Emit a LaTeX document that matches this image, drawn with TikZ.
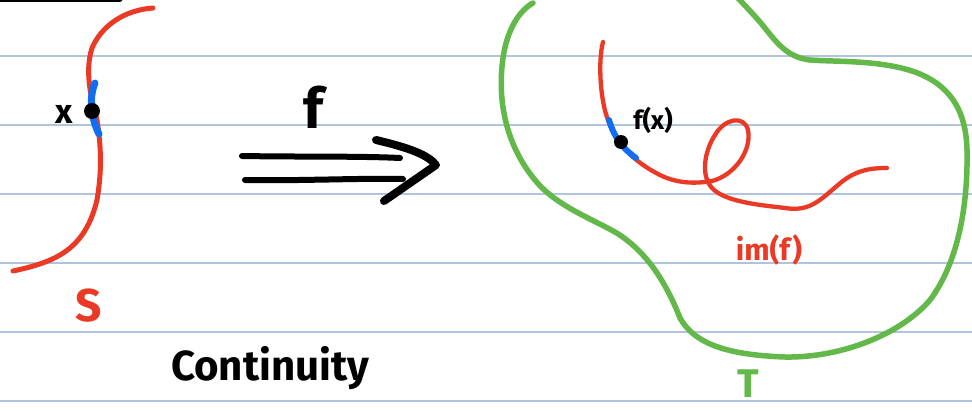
\documentclass[tikz,border=0pt]{standalone}
\usepackage{fontspec}
\setmainfont{Fira Sans}
\usetikzlibrary{calc}
\definecolor{rule}{RGB}{176,196,222}
\definecolor{pred}{RGB}{234,58,38}
\definecolor{pblue}{RGB}{18,110,240}
\definecolor{pgreen}{RGB}{98,184,72}
\tikzset{
  ruleline/.style={rule, line width=1.2pt},
  redcurve/.style={pred, line width=5pt, line cap=round, line join=round},
  thinred/.style={pred, line width=4.3pt, line cap=round, line join=round},
  bluebit/.style={pblue, line width=7pt, line cap=round},
  greencurve/.style={pgreen, line width=5.5pt, line cap=round, line join=round},
  ink/.style={black, line width=6pt, line cap=round, line join=round},
  dot/.style={circle, fill=black, inner sep=0pt, minimum size=#1},
  lbl/.style={font=\fontsize{#1}{#1}\selectfont\bfseries, inner sep=0pt}
}
\begin{document}
\begin{tikzpicture}[x=1pt,y=-1pt]
\useasboundingbox (0,0) rectangle (972,410);
\clip (0,0) rectangle (972,410);
\fill[white] (0,0) rectangle (972,410);
% ruled lines
\foreach \yy in {56,125,194,263,332,401}
  \draw[ruleline] (0,\yy) -- (972,\yy);
% top black sliver
\draw[black, line width=5pt, line cap=round] (-5,-1) -- (120,-1);

% ---------- left set S ----------
\coordinate (s0) at (13,271);
\coordinate (s1) at (153,8);
\draw[redcurve] (s0) .. controls (55,262) and (85,250) .. (97,200)
  .. controls (103,165) and (100,140) .. (97,120)
  .. controls (90,95) and (85,70) .. (92,48)
  .. controls (102,25) and (125,10) .. (s1);
\draw[bluebit] (95,83) .. controls (88,100) and (92,120) .. (99,134);
\node[dot=16pt] (xdot) at (92,111) {};
\node[lbl=34pt] (xlbl) at (64,114) {x};
\node[lbl=46pt, text=pred] (Slbl) at (89,306) {S};

% ---------- arrow f ----------
\coordinate (a1s) at (242,156);
\coordinate (a1e) at (400,158);
\coordinate (a2s) at (245,180);
\coordinate (a2e) at (403,179);
\draw[ink] (a1s) .. controls (300,157) and (360,156) .. (a1e);
\draw[ink] (a2s) .. controls (300,181) and (360,178) .. (a2e);
\coordinate (h1) at (376,140);
\coordinate (h2) at (436,165);
\coordinate (h3) at (384,201);
\draw[ink, line width=8pt] (h1) .. controls (410,148) and (428,155) .. (h2) -- (h3);
\node[lbl=56pt] (flbl) at (313,107) {f};

\node[lbl=42pt] (cont) at (270,368) {Continuity};

% ---------- right set T ----------
\coordinate (g0) at (533,3);
\draw[greencurve] (g0) .. controls (520,10) and (505,30) .. (502,67)
  .. controls (498,110) and (510,150) .. (535,180)
  .. controls (555,205) and (590,218) .. (615,232)
  .. controls (645,250) and (665,280) .. (680,318)
  .. controls (695,345) and (730,355) .. (785,357)
  .. controls (840,358) and (900,335) .. (930,300)
  .. controls (960,260) and (968,200) .. (967,150)
  .. controls (966,110) and (950,85) .. (915,72)
  .. controls (880,60) and (840,62) .. (810,60)
  .. controls (785,57) and (775,40) .. (760,22)
  .. controls (745,5) and (735,-5) .. (725,-15);
\node[lbl=40pt, text=pgreen] (Tlbl) at (748,384) {T};

% image curve
\draw[thinred] (603,42) .. controls (598,60) and (600,100) .. (608,120)
  .. controls (615,140) and (630,160) .. (660,175)
  .. controls (680,185) and (700,183) .. (712,181)
  .. controls (735,175) and (752,150) .. (748,130)
  .. controls (744,115) and (725,118) .. (715,135)
  .. controls (705,150) and (700,175) .. (712,188)
  .. controls (725,202) and (760,205) .. (785,208)
  .. controls (810,212) and (820,200) .. (838,185)
  .. controls (855,170) and (870,168) .. (887,168);
\draw[bluebit, line width=6pt] (609,120) .. controls (615,140) and (625,150) .. (636,158);
\node[dot=14pt] (fxdot) at (621,142) {};
\node[lbl=26pt] (fxlbl) at (653,120) {f(x)};
\node[lbl=30pt, text=pred] (imlbl) at (769,250) {im(f)};
\end{tikzpicture}
\end{document}
